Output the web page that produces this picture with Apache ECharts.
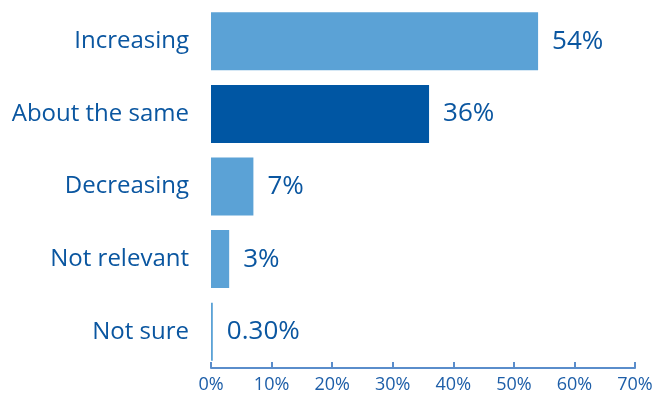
<!DOCTYPE html>
<html><head><meta charset="utf-8">
<script src="https://cdn.jsdelivr.net/npm/echarts@6/dist/echarts.min.js"></script>
<style>html,body{margin:0;padding:0;background:#fff}#c{width:669px;height:399px}</style>
</head><body><div id="c"></div>
<script>
const categories = ["Increasing", "About the same", "Decreasing", "Not relevant", "Not sure"];
const values = [54, 36, 7, 3, 0.3];
const valueLabels = ["54%", "36%", "7%", "3%", "0.30%"];
const barColors = ["#5BA2D6", "#0056A3", "#5BA2D6", "#5BA2D6", "#5BA2D6"];
const xTicks = [0, 10, 20, 30, 40, 50, 60, 70];

const chart = echarts.init(document.getElementById('c'));
chart.setOption({
  animation: false,
  grid: { left: 211, right: 34, top: 5, bottom: 31, containLabel: false },
  xAxis: {
    type: 'value', min: xTicks[0], max: xTicks[xTicks.length - 1], interval: 10,
    axisLine: { show: true, lineStyle: { color: '#5A8DCB', width: 2 } },
    axisTick: { show: true, inside: true, length: 6, lineStyle: { color: '#5A8DCB', width: 2 } },
    splitLine: { show: false },
    axisLabel: { formatter: v => v + '%', color: '#1D5EA8', fontSize: 18, fontFamily: 'Open Sans', margin: 8 }
  },
  yAxis: {
    type: 'category', data: categories, inverse: true,
    axisLine: { show: false }, axisTick: { show: false },
    axisLabel: { color: '#0A56A0', fontSize: 24, fontFamily: 'Open Sans', margin: 22 }
  },
  series: [{
    type: 'bar',
    data: values.map((v, i) => ({ value: v, itemStyle: { color: barColors[i] } })),
    barWidth: 58,
    label: {
      show: true, position: 'right', distance: 14,
      formatter: p => valueLabels[p.dataIndex],
      color: '#0A56A0', fontSize: 26, fontFamily: 'Open Sans'
    }
  }]
});
</script></body></html>
